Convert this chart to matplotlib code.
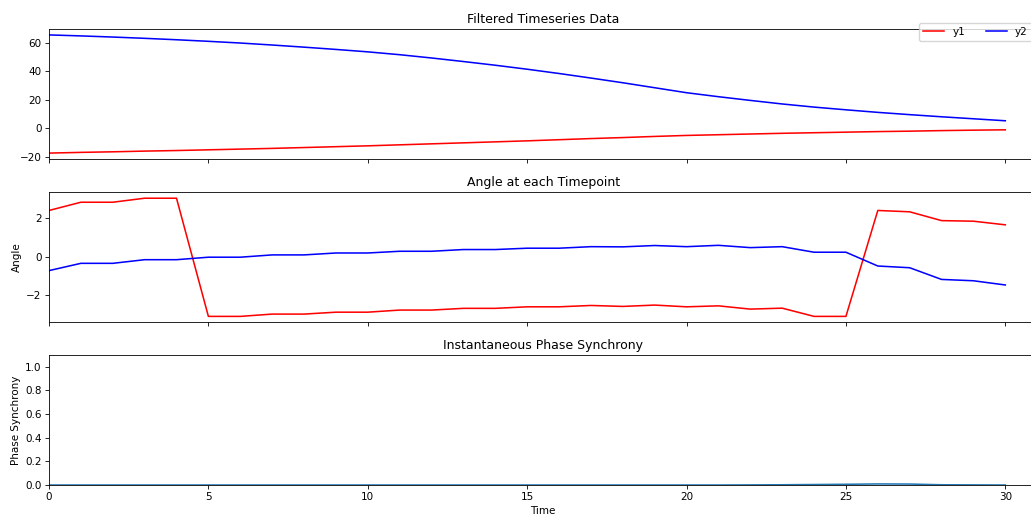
import matplotlib
matplotlib.use("Agg")
import matplotlib.pyplot as plt
import numpy as np

time = list(range(31))

y1_filtered = [-17.4, -16.9, -16.5, -16.0, -15.6, -15.1, -14.6, -14.1, -13.5, -12.9,
               -12.3, -11.6, -10.9, -10.2, -9.5, -8.8, -8.0, -7.2, -6.5, -5.7,
               -5.0, -4.5, -4.0, -3.5, -3.1, -2.7, -2.3, -2.0, -1.6, -1.3, -1.05]
y2_filtered = [65.6, 64.9, 64.1, 63.2, 62.2, 61.1, 59.9, 58.5, 57.0, 55.4,
               53.7, 51.7, 49.4, 46.9, 44.3, 41.5, 38.5, 35.3, 32.0, 28.5,
               25.0, 22.2, 19.6, 17.1, 14.9, 13.0, 11.2, 9.6, 8.1, 6.7, 5.3]

angle1 = [2.41, 2.84, 2.84, 3.05, 3.05, -3.12, -3.12, -3.00, -3.00, -2.90,
          -2.90, -2.79, -2.79, -2.70, -2.70, -2.62, -2.62, -2.55, -2.60, -2.53,
          -2.62, -2.57, -2.74, -2.69, -3.12, -3.12, 2.41, 2.34, 1.88, 1.85, 1.66]
angle2 = [-0.73, -0.35, -0.35, -0.16, -0.16, -0.03, -0.03, 0.09, 0.09, 0.19,
          0.19, 0.28, 0.28, 0.37, 0.37, 0.44, 0.44, 0.52, 0.51, 0.58,
          0.52, 0.59, 0.47, 0.52, 0.23, 0.23, -0.49, -0.58, -1.19, -1.26, -1.48]

synchrony = [0.000, 0.000, 0.000, 0.000, 0.000, 0.000, 0.000, 0.000, 0.000, 0.000,
             0.000, 0.000, 0.000, 0.000, 0.000, 0.000, 0.000, 0.000, 0.000, 0.000,
             0.000, 0.000, 0.001, 0.002, 0.004, 0.006, 0.009, 0.008, 0.002, 0.001, 0.000]

sync_ticks = [0.0, 0.2, 0.4, 0.6, 0.8, 1.0]

s = 0.75
plt.rcParams.update({
    'font.size': 10 * s,
    'axes.titlesize': 12 * s,
    'axes.labelsize': 10 * s,
    'xtick.labelsize': 10 * s,
    'ytick.labelsize': 10 * s,
    'legend.fontsize': 10 * s,
    'lines.linewidth': 1.5 * s,
    'axes.linewidth': 0.8 * s,
    'xtick.major.size': 3.5 * s,
    'ytick.major.size': 3.5 * s,
    'xtick.major.width': 0.8 * s,
    'ytick.major.width': 0.8 * s,
    'xtick.major.pad': 3.5 * s,
    'ytick.major.pad': 3.5 * s,
    'axes.titlepad': 6 * s,
    'axes.labelpad': 4 * s,
})

fig = plt.figure(figsize=(10.31, 5.16), dpi=100)
left = 49 / 1031
width = 1.006 - left
H = 516
def pos(top, bottom):
    return [left, 1 - bottom / H, width, (bottom - top) / H]

ax1 = fig.add_axes(pos(29, 159))
ax2 = fig.add_axes(pos(192.3, 322.3), sharex=ax1)
ax3 = fig.add_axes(pos(355, 485), sharex=ax1)

ax1.plot(time, y1_filtered, color='red', label='y1')
ax1.plot(time, y2_filtered, color='blue', label='y2')
ax1.set_title('Filtered Timeseries Data')
ax1.tick_params(labelbottom=False)
fig.legend(loc='upper right', bbox_to_anchor=(1.006, 0.966), ncol=2)

ax2.plot(time, angle1, color='red')
ax2.plot(time, angle2, color='blue')
ax2.set_title('Angle at each Timepoint')
ax2.set_ylabel('Angle')
ax2.tick_params(labelbottom=False)

ax3.plot(time, synchrony)
ax3.set_title('Instantaneous Phase Synchrony')
ax3.set_ylabel('Phase Synchrony')
ax3.set_xlabel('Time')
ax3.set_ylim(0, 1.1)
ax3.set_yticks(sync_ticks)

ax1.set_xlim(0, 31)

fig.savefig('out.png', dpi=100)
